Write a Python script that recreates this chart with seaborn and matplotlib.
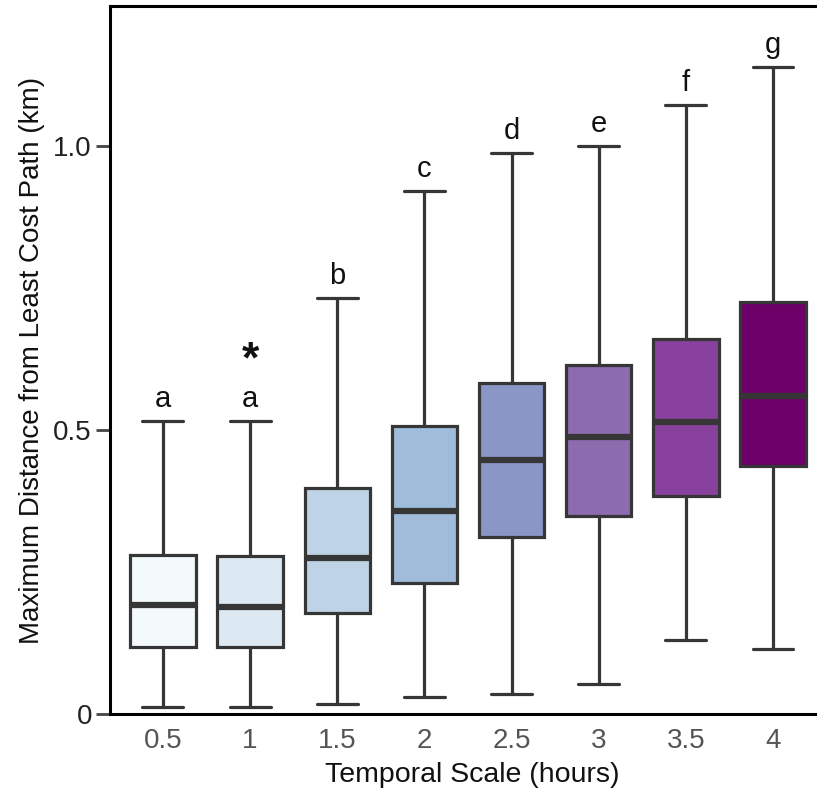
import numpy as np
import pandas as pd
import matplotlib
matplotlib.use("Agg")
import matplotlib.pyplot as plt
import seaborn as sns

# Temporal scales (hours) and box-plot summaries of the max distance (km)
scales = ["0.5", "1", "1.5", "2", "2.5", "3", "3.5", "4"]
whisker_low = [0.013, 0.012, 0.018, 0.030, 0.036, 0.052, 0.130, 0.114]
q1 = [0.118, 0.118, 0.177, 0.231, 0.312, 0.349, 0.383, 0.437]
median = [0.191, 0.188, 0.275, 0.357, 0.447, 0.487, 0.514, 0.559]
q3 = [0.279, 0.278, 0.398, 0.507, 0.583, 0.614, 0.660, 0.725]
whisker_high = [0.516, 0.516, 0.732, 0.920, 0.987, 0.999, 1.072, 1.138]
group_letters = ["a", "a", "b", "c", "d", "e", "f", "g"]
box_colors = ["#f4fafc", "#dde9f2", "#bfd3e6", "#9fbcda",
              "#8a96c5", "#8c6baf", "#88419c", "#6d0068"]

# Long-form table: five summary values per scale (min, Q1, median, Q3, max)
rows = []
for i, s in enumerate(scales):
    for v in (whisker_low[i], q1[i], median[i], q3[i], whisker_high[i]):
        rows.append({"scale": s, "dist": v})
df = pd.DataFrame(rows)

sns.set_style("white")
plt.rcParams["font.family"] = ["Liberation Sans", "DejaVu Sans"]

fig = plt.figure(figsize=(8.17, 7.96), dpi=100)
ax = fig.add_axes([0.1346, 0.103, 0.8654, 0.8895])

line_col = "#363636"
sns.boxplot(data=df, x="scale", y="dist", hue="scale", order=scales,
            hue_order=scales, palette=box_colors, legend=False,
            width=0.75, whis=np.inf, saturation=1, linewidth=2.3,
            linecolor=line_col, ax=ax,
            medianprops=dict(linewidth=4.5, color=line_col),
            whiskerprops=dict(linewidth=2.3, color=line_col),
            capprops=dict(linewidth=2.3, color=line_col))

# widen the whisker caps a little
for ln in ax.lines:
    xd = np.asarray(ln.get_xdata(), dtype=float)
    yd = np.asarray(ln.get_ydata(), dtype=float)
    if len(xd) == 2 and yd[0] == yd[1] and (yd[0] in whisker_low or yd[0] in whisker_high):
        c = xd.mean()
        ln.set_xdata([c - 0.235, c + 0.235])

# significance-group letters above the upper whiskers
for i, lab in enumerate(group_letters):
    ax.text(i, whisker_high[i] + 0.014, lab, ha="center", va="bottom",
            fontsize=21, color="#111111")
ax.text(1, 0.622, "*", ha="center", va="center",
        fontsize=32, fontweight="bold", color="#111111")

ax.set_xlim(-0.608, 7.505)
ax.set_ylim(0, 1.246)
ax.set_yticks([0, 0.5, 1.0])
ax.set_yticklabels(["0", "0.5", "1.0"])

ax.set_xlabel("Temporal Scale (hours)", fontsize=20.5, color="#111111", labelpad=10)
ax.xaxis.set_label_coords(0.513, -0.068)
ax.set_ylabel("Maximum Distance from Least Cost Path (km)", fontsize=20,
              color="#111111", labelpad=6)

ax.tick_params(axis="y", direction="out", length=10, width=2, color="#444444",
               labelsize=20, labelcolor="#222222", pad=3, left=True)
ax.tick_params(axis="x", length=0, labelsize=20, labelcolor="#555555", pad=10)

for side in ("left", "bottom", "top"):
    ax.spines[side].set_visible(True)
    ax.spines[side].set_linewidth(2.2)
    ax.spines[side].set_color("#000000")
ax.spines["right"].set_visible(False)

fig.savefig("out.png", dpi=100)
